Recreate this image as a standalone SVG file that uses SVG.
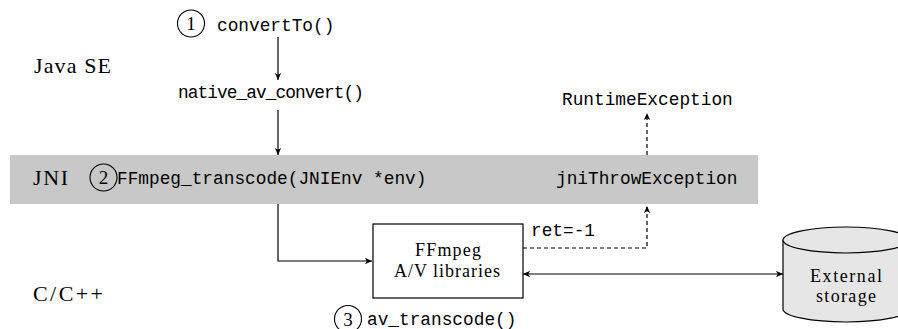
<svg xmlns="http://www.w3.org/2000/svg" width="898" height="329" viewBox="0 0 898 329">
<defs>
<marker id="ah" viewBox="0 0 10 10" refX="10" refY="5" markerWidth="7" markerHeight="7" markerUnits="userSpaceOnUse" orient="auto-start-reverse">
<path d="M0,0.5 L10,5 L0,9.5 L2.5,5 Z" fill="#000"/>
</marker>
<style>
.serif{font-family:"Liberation Serif","Times New Roman",serif;fill:#000}
.mono{font-family:"Liberation Mono","Courier New",monospace;font-size:17.8px;fill:#000}
.lbl{font-size:22px}
.box{font-size:18px}
.num{font-size:19px;text-anchor:middle}
.ln{fill:none;stroke:#000;stroke-width:1.2}
.dash{stroke-dasharray:4 3}
.circ{fill:none;stroke:#000;stroke-width:1.1}
</style>
</defs>
<rect id="jni-band" x="10" y="155" width="748" height="49" fill="#c8c8c8"/>
<g id="labels">
<text class="serif lbl" x="34" y="73" textLength="77" lengthAdjust="spacing">Java SE</text>
<text class="serif lbl" x="33" y="185" textLength="35" lengthAdjust="spacing">JNI</text>
<text class="serif lbl" x="33" y="301" textLength="70" lengthAdjust="spacing">C/C++</text>
</g>
<g id="convertTo">
<circle class="circ" cx="191" cy="23.5" r="13.5"/>
<text class="serif num" x="191" y="30">1</text>
<text class="mono" x="217" y="31">convertTo()</text>
</g>
<g id="native">
<text class="mono" x="178" y="98" textLength="186" lengthAdjust="spacing">native_av_convert()</text>
</g>
<g id="runtime">
<text class="mono" x="562" y="105">RuntimeException</text>
</g>
<g id="ffmpeg-transcode">
<circle class="circ" cx="103.5" cy="177.5" r="13.5"/>
<text class="serif num" x="103.5" y="184">2</text>
<text class="mono" x="117" y="184">FFmpeg_transcode(JNIEnv *env)</text>
</g>
<g id="jniThrow">
<text class="mono" x="556" y="184">jniThrowException</text>
</g>
<g id="libs">
<rect x="373" y="224" width="150" height="74" fill="#fff" stroke="#000" stroke-width="1.2"/>
<text class="serif box" x="448" y="256" text-anchor="middle" textLength="66" lengthAdjust="spacing">FFmpeg</text>
<text class="serif box" x="447" y="276.5" text-anchor="middle" textLength="106" lengthAdjust="spacing">A/V libraries</text>
</g>
<g id="av-transcode">
<circle class="circ" cx="348" cy="319" r="13.5"/>
<text class="serif num" x="348" y="325.5">3</text>
<text class="mono" x="367" y="325">av_transcode()</text>
</g>
<g id="storage">
<path d="M783,240 L783,309 A63,13 0 0 0 909,309 L909,240" fill="#e6e6e6" stroke="#000" stroke-width="1.2"/>
<ellipse cx="846" cy="240" rx="63" ry="13" fill="#e6e6e6" stroke="#000" stroke-width="1.2"/>
<text class="serif box" x="846" y="281.5" text-anchor="middle" textLength="72" lengthAdjust="spacing">External</text>
<text class="serif box" x="846" y="302" text-anchor="middle" textLength="60" lengthAdjust="spacing">storage</text>
</g>
<g id="connectors">
<line class="ln" x1="278" y1="37" x2="278" y2="80" marker-end="url(#ah)"/>
<line class="ln" x1="278" y1="110" x2="278" y2="155" marker-end="url(#ah)"/>
<line class="ln dash" x1="647" y1="155" x2="647" y2="113" marker-end="url(#ah)"/>
<polyline class="ln" points="278,204 278,261 372,261" marker-end="url(#ah)"/>
<polyline class="ln dash" points="523,248 647,248 647,206" marker-end="url(#ah)"/>
<text class="mono" x="531" y="236">ret=-1</text>
<line class="ln" x1="523" y1="274" x2="783" y2="274" marker-start="url(#ah)" marker-end="url(#ah)"/>
</g>
</svg>
